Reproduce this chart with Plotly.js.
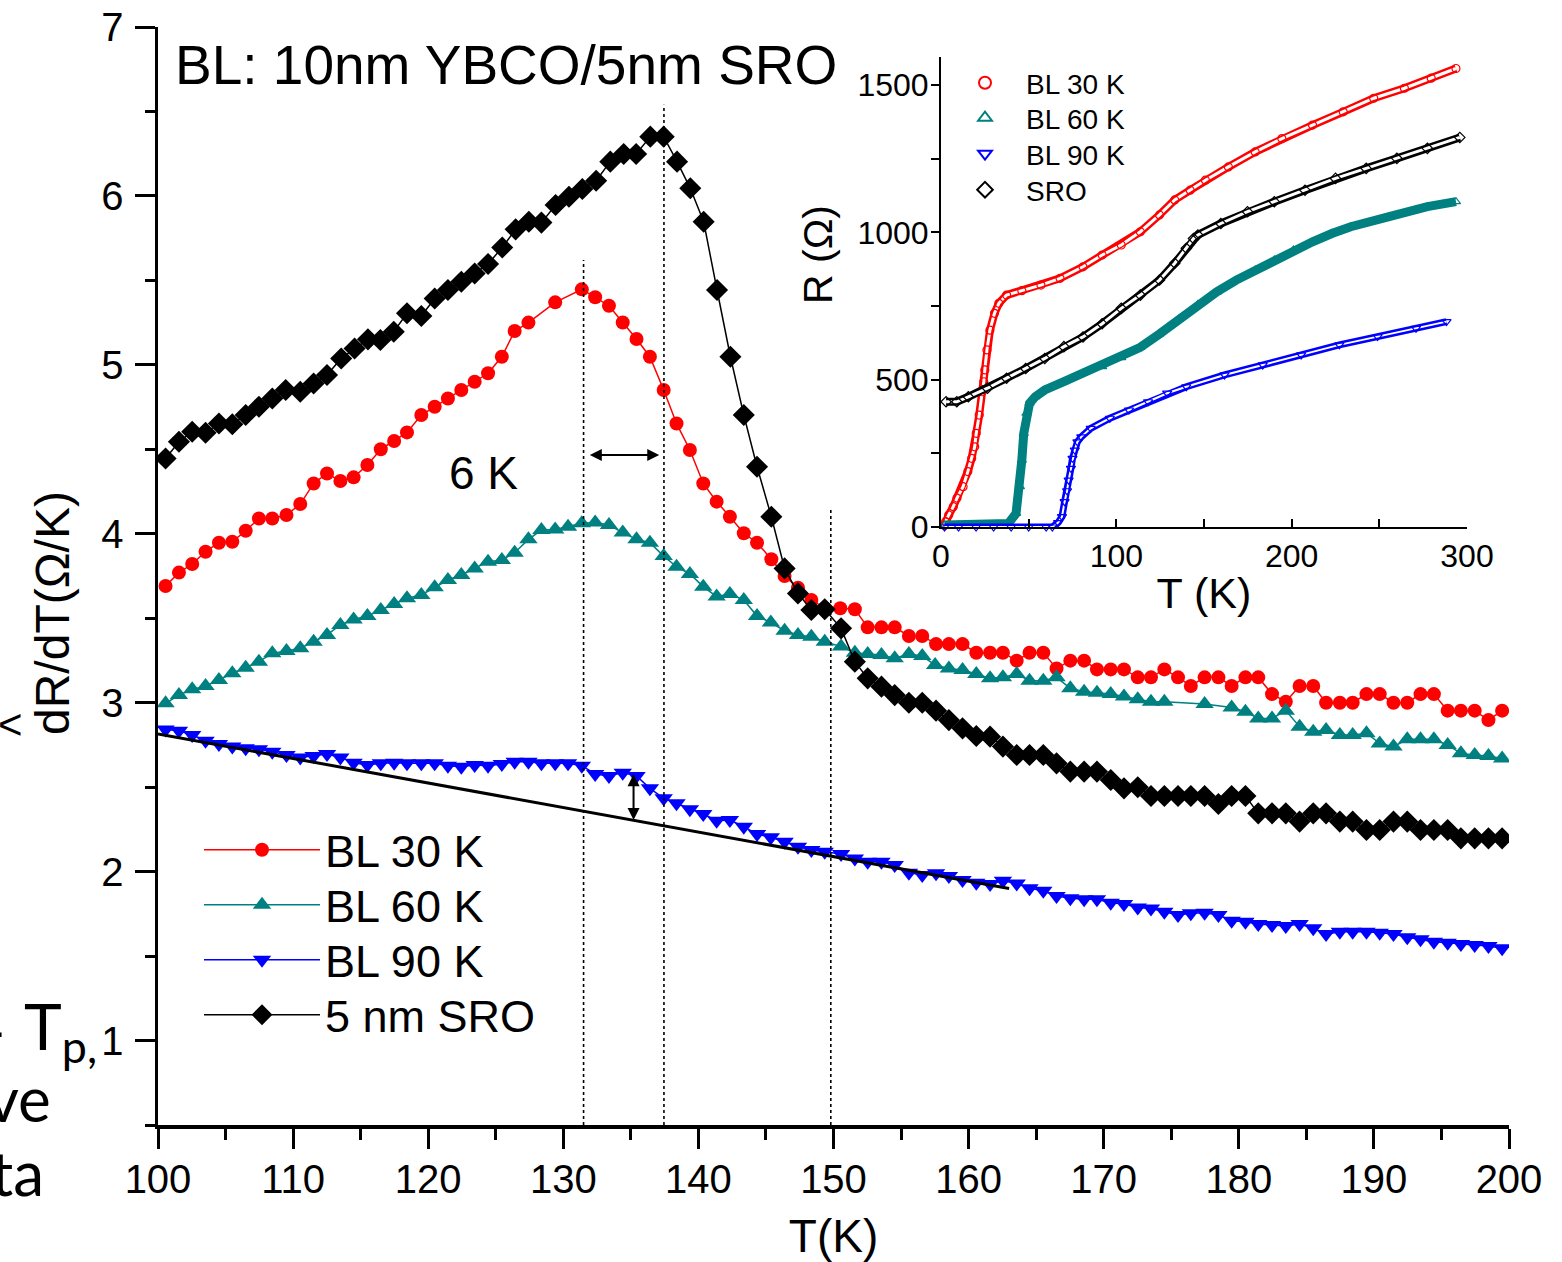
<!DOCTYPE html>
<html><head><meta charset="utf-8">
<script src="https://cdn.plot.ly/plotly-3.0.1.min.js"></script>
<style>html,body{margin:0;padding:0;background:#fff}#chart{width:1562px;height:1262px}</style>
</head><body><div id="chart"></div>
<script>
// ---- main panel: dR/dT vs T ----
const tBL30 = [100.56,101.55,102.53,103.52,104.51,105.5,106.49,107.47,108.46,109.51,110.53,111.52,112.51,113.5,114.48,115.5,116.49,117.48,118.43,119.49,120.48,121.46,122.45,123.44,124.43,125.45,126.4,127.42,129.4,131.37,132.36,133.38,134.4,135.42,136.41,137.43,138.38,139.37,140.36,141.35,142.33,143.36,144.34,145.4,146.38,147.37,148.36,149.35,150.5,151.58,152.53,153.55,154.53,155.58,156.57,157.59,158.54,159.55,160.57,161.59,162.54,163.56,164.51,165.53,166.51,167.53,168.55,169.5,170.52,171.5,172.52,173.5,174.49,175.5,176.45,177.47,178.49,179.47,180.49,181.44,182.46,183.48,184.5,185.51,186.46,187.48,188.43,189.45,190.43,191.45,192.47,193.45,194.44,195.46,196.44,197.46,198.48,199.49];
const dBL30 = [3.691,3.77,3.821,3.894,3.947,3.953,4.018,4.09,4.09,4.111,4.176,4.298,4.357,4.312,4.334,4.407,4.5,4.549,4.6,4.703,4.752,4.801,4.851,4.9,4.95,5.048,5.2,5.25,5.37,5.447,5.4,5.35,5.251,5.153,5.048,4.851,4.653,4.496,4.298,4.19,4.101,4.003,3.947,3.849,3.75,3.68,3.608,3.56,3.559,3.553,3.446,3.446,3.446,3.395,3.395,3.347,3.347,3.347,3.296,3.296,3.296,3.249,3.296,3.296,3.203,3.249,3.249,3.197,3.197,3.197,3.15,3.15,3.197,3.15,3.099,3.15,3.15,3.099,3.15,3.15,3.051,3.006,3.099,3.099,3.0,3.0,3.0,3.051,3.051,3.0,3.0,3.051,3.051,2.953,2.953,2.953,2.897,2.953];

const tBL60 = [100.56,101.55,102.53,103.52,104.51,105.5,106.49,107.47,108.46,109.51,110.53,111.52,112.51,113.5,114.48,115.5,116.49,117.48,118.43,119.49,120.48,121.46,122.45,123.44,124.43,125.45,126.4,127.42,128.38,129.4,130.35,131.37,132.36,133.38,134.4,135.42,136.41,137.43,138.38,139.37,140.36,141.35,142.33,143.36,144.34,145.36,146.38,147.37,148.36,149.35,150.56,151.58,152.53,153.55,154.53,155.58,156.57,157.52,158.54,159.55,160.57,161.59,162.54,163.56,164.51,165.53,166.51,167.53,168.55,169.5,170.52,171.5,172.52,173.5,174.49,177.47,179.47,180.49,181.44,182.46,183.48,184.5,185.51,186.46,187.48,188.43,189.45,190.43,191.45,192.47,193.45,194.44,195.46,196.44,197.46,198.48,199.49];
const dBL60 = [2.996,3.045,3.079,3.099,3.134,3.174,3.207,3.243,3.292,3.306,3.322,3.361,3.401,3.46,3.493,3.513,3.549,3.584,3.618,3.638,3.683,3.726,3.756,3.795,3.835,3.845,3.888,3.967,4.022,4.026,4.042,4.062,4.066,4.052,4.007,3.967,3.947,3.868,3.805,3.762,3.687,3.628,3.643,3.608,3.513,3.474,3.426,3.401,3.391,3.361,3.332,3.296,3.288,3.282,3.263,3.288,3.276,3.223,3.203,3.193,3.17,3.144,3.15,3.17,3.13,3.13,3.15,3.085,3.065,3.059,3.051,3.036,3.02,3.006,3.006,2.992,2.972,2.947,2.907,2.907,2.953,2.858,2.828,2.838,2.809,2.809,2.819,2.759,2.74,2.783,2.783,2.783,2.749,2.7,2.69,2.684,2.67];

const tBL90 = [100.56,101.55,102.53,103.52,104.51,105.5,106.49,107.47,108.46,109.51,110.53,111.52,112.51,113.5,114.48,115.5,116.49,117.48,118.43,119.49,120.48,121.46,122.45,123.44,124.43,125.45,126.4,127.42,128.38,129.4,130.35,131.37,132.36,133.38,134.4,135.42,136.41,137.43,138.38,139.37,140.36,141.35,142.33,143.36,144.34,145.36,146.38,147.37,148.36,149.35,150.56,151.58,152.53,153.55,154.53,155.58,156.57,157.59,158.54,159.55,160.57,161.59,162.54,163.56,164.51,165.53,166.51,167.53,168.55,169.5,170.52,171.5,172.52,173.5,174.49,175.5,176.45,177.47,178.49,179.47,180.49,181.44,182.46,183.48,184.5,185.51,186.46,187.48,188.43,189.45,190.43,191.45,192.47,193.45,194.44,195.46,196.44,197.46,198.48,199.49];
const dBL90 = [2.842,2.834,2.809,2.775,2.755,2.74,2.73,2.724,2.71,2.69,2.676,2.684,2.696,2.676,2.645,2.631,2.641,2.645,2.641,2.641,2.641,2.627,2.621,2.631,2.627,2.637,2.651,2.651,2.641,2.641,2.641,2.627,2.578,2.566,2.586,2.566,2.493,2.434,2.404,2.369,2.341,2.301,2.305,2.266,2.222,2.203,2.177,2.147,2.128,2.118,2.104,2.078,2.059,2.059,2.039,1.994,1.98,1.99,1.974,1.95,1.934,1.927,1.946,1.93,1.901,1.887,1.855,1.842,1.836,1.836,1.816,1.808,1.788,1.782,1.763,1.743,1.753,1.757,1.743,1.709,1.703,1.69,1.684,1.678,1.69,1.664,1.63,1.644,1.644,1.644,1.638,1.63,1.611,1.599,1.585,1.579,1.571,1.565,1.559,1.546];

const tSRO = [100.56,101.55,102.53,103.52,104.51,105.5,106.49,107.47,108.46,109.45,110.53,111.52,112.51,113.56,114.55,115.54,116.46,117.45,118.43,119.49,120.48,121.46,122.45,123.44,124.43,125.48,126.47,127.45,128.38,129.43,130.42,131.41,132.43,133.48,134.47,135.39,136.44,137.43,138.42,139.4,140.39,141.38,142.37,143.36,144.34,145.4,146.38,147.37,148.36,149.35,150.56,151.58,152.53,153.55,154.53,155.58,156.57,157.59,158.54,159.55,160.57,161.59,162.54,163.56,164.51,165.53,166.51,167.53,168.55,169.5,170.52,171.5,172.52,173.5,174.49,175.5,176.45,177.47,178.49,179.47,180.49,181.44,182.46,183.48,184.5,185.51,186.46,187.48,188.43,189.45,190.43,191.45,192.47,193.45,194.44,195.46,196.44,197.46,198.48,199.49];
const dSRO = [4.446,4.545,4.604,4.598,4.653,4.648,4.703,4.752,4.801,4.851,4.841,4.89,4.94,5.038,5.097,5.151,5.147,5.196,5.305,5.289,5.393,5.443,5.492,5.541,5.597,5.695,5.802,5.847,5.842,5.946,5.995,6.041,6.09,6.203,6.248,6.248,6.351,6.351,6.203,6.045,5.847,5.443,5.048,4.703,4.397,4.101,3.795,3.647,3.549,3.553,3.44,3.243,3.144,3.095,3.045,3.0,3.0,2.953,2.897,2.848,2.803,2.799,2.74,2.69,2.69,2.69,2.641,2.592,2.592,2.592,2.542,2.493,2.499,2.448,2.448,2.448,2.448,2.448,2.4,2.448,2.448,2.345,2.345,2.345,2.296,2.345,2.345,2.296,2.296,2.246,2.246,2.296,2.296,2.246,2.246,2.246,2.197,2.197,2.197,2.197];

// straight background line under BL 90 K
const fitT = [100, 163];
const fitD = [2.815, 1.9];

// ---- inset: R vs T ----
const rT30 = [2,2.6,4.4,7,9.1,12.6,15.3,17.5,19.2,20.1,21.8,23.5,24.4,25,26.2,27.9,30.5,33,37.4,46.1,57,67.9,81,91.9,102.8,113.7,124.6,133.3,142.1,150.8,163.9,179.2,194.4,211.9,229.4,246.8,264.3,279.6,293.7];
const rR30 = [5,18,41,69,98,137,188,233,272,318,380,459,493,533,601,668,725,759,787,802,821,844,883,923,957,1002,1059,1110,1143,1177,1222,1273,1318,1364,1409,1455,1489,1523,1556];
const rT60 = [2,10,20,30,38.4,42.8,45,46.1,47.2,48.7,50.5,53.7,59.2,70.1,81,91.9,102.8,113.7,124.6,135.5,146.5,157.3,168.4,179.2,190.1,201,211.9,222.9,233.7,255.6,277.4,293.7];
const rR60 = [7,7,7,7,12,46,137,227,318,386,420,442,465,493,522,544,575,610,655,705,755,798,838,872,906,940,968,996,1019,1053,1087,1104];
const rT90 = [2,10,20,30,40,50,60,63.5,66.8,69,70.5,71.9,72.8,74.1,75,76.3,77.8,80,85.4,96.3,107.2,118.1,129,139.9,161.7,183.5,205.4,227.2,249,270.9,288.3];
const rR90 = [0,0,0,0,0,0,0,0,15,35,86,123,159,199,233,261,289,306,335,369,397,425,454,476,516,550,584,618,646,674,697];
const rTSRO = [2.9,9,15.6,26.5,37.4,48.3,59.2,70.1,81,91.9,102.8,113.7,124.6,133.3,139.9,144,146.5,159.6,174.8,190.1,207.6,225,242.5,260,277.4,295.9];
const rRSRO = [425,425,442,471,505,538,572,612,645,690,742,787,838,895,946,979,991,1030,1070,1104,1143,1183,1217,1251,1285,1322];

const mainNames = ["BL 30 K","BL 60 K","BL 90 K","5 nm SRO"];
const insetNames = ["BL 30 K","BL 60 K","BL 90 K","SRO"];

const RED = "#ff0000", TEAL = "#008080", BLUE = "#0000ff", BLACK = "#000000";
const FONT = "Liberation Sans, Arial, Helvetica, sans-serif";
const SIDEFONT = "Lato, sans-serif";

// page geometry
const W = 1562, H = 1262, ML = 158, MR = 53, MT = 27, MB = 137;
const PW = W - ML - MR, PH = H - MT - MB;
const px = x => (x - ML) / PW;
const py = y => (H - MB - y) / PH;

// one legend box per entry so rows sit where the reference has them
const mainLegendIds = ["legend","legend3","legend4","legend5"];
const insetLegendIds = ["legend2","legend6","legend7","legend8"];
const mainRowsY = [850, 905, 960, 1015];
const insetRowsY = [83, 118, 154, 190];

const traces = [];
traces.push({x:tBL30, y:dBL30, name:mainNames[0], mode:"lines+markers", legend:mainLegendIds[0],
  line:{color:RED, width:1.5}, marker:{symbol:"circle", size:14, color:RED}});
traces.push({x:tBL60, y:dBL60, name:mainNames[1], mode:"lines+markers", legend:mainLegendIds[1],
  line:{color:TEAL, width:1.5}, marker:{symbol:"triangle-up", size:16, color:TEAL}});
traces.push({x:tBL90, y:dBL90, name:mainNames[2], mode:"lines+markers", legend:mainLegendIds[2],
  line:{color:BLUE, width:1.5}, marker:{symbol:"triangle-down", size:16, color:BLUE}});
traces.push({x:fitT, y:fitD, mode:"lines", showlegend:false, hoverinfo:"skip",
  line:{color:BLACK, width:3}});
traces.push({x:tSRO, y:dSRO, name:mainNames[3], mode:"lines+markers", legend:mainLegendIds[3],
  line:{color:BLACK, width:1.5}, marker:{symbol:"diamond", size:17, color:BLACK}});

const inset = [
  {t:rT30, r:rR30, c:RED, s:"circle-open", w:8, hollow:3},
  {t:rT60, r:rR60, c:TEAL, s:"triangle-up-open", w:9, hollow:0},
  {t:rT90, r:rR90, c:BLUE, s:"triangle-down-open", w:7, hollow:2},
  {t:rTSRO, r:rRSRO, c:BLACK, s:"diamond-open", w:8, hollow:3}
];
inset.forEach((d,i) => {
  traces.push({x:d.t, y:d.r, xaxis:"x2", yaxis:"y2", mode:"lines", showlegend:false,
    hoverinfo:"skip", cliponaxis:false, line:{color:d.c, width:d.w}});
  if (d.hollow) traces.push({x:d.t, y:d.r, xaxis:"x2", yaxis:"y2", mode:"lines", showlegend:false,
    hoverinfo:"skip", cliponaxis:false, line:{color:"#ffffff", width:d.hollow}});
  traces.push({x:d.t, y:d.r, xaxis:"x2", yaxis:"y2", mode:"markers", name:insetNames[i], legend:insetLegendIds[i],
    cliponaxis:false, marker:{symbol:d.s, size:8, color:d.c, line:{color:d.c, width:1.2}}});
});

const axisCommon = {showline:true, linecolor:BLACK, showgrid:false, zeroline:false, ticks:"outside",
  tickcolor:BLACK, mirror:false};

const layout = {
  width:W, height:H, margin:{l:ML, r:MR, t:MT, b:MB, pad:0},
  paper_bgcolor:"#ffffff", plot_bgcolor:"rgba(0,0,0,0)",
  font:{family:FONT, color:BLACK, size:40},
  showlegend:true,
  xaxis:Object.assign({}, axisCommon, {range:[100,200], domain:[0,1], linewidth:3.5,
    tickmode:"linear", tick0:100, dtick:10, ticklen:20, tickwidth:3,
    minor:{dtick:5, ticklen:11, tickwidth:3, ticks:"outside", tickcolor:BLACK},
    tickfont:{size:40, family:FONT}, ticklabelstandoff:-4,
    title:{text:"T(K)", font:{size:46, family:FONT}, standoff:24}}),
  yaxis:Object.assign({}, axisCommon, {range:[0.5,7], domain:[0,1], linewidth:3.5,
    tickmode:"linear", tick0:0, dtick:1, ticklen:20, tickwidth:3,
    minor:{dtick:0.5, ticklen:10, tickwidth:3, ticks:"outside", tickcolor:BLACK},
    tickfont:{size:40, family:FONT}, ticklabelstandoff:3}),
  xaxis2:Object.assign({}, axisCommon, {anchor:"y2", domain:[px(941), px(1467)], range:[0,300],
    linewidth:2, ticks:"inside", tickmode:"linear", tick0:0, dtick:100, ticklen:8, tickwidth:2,
    minor:{dtick:50, ticklen:8, tickwidth:2, ticks:"inside", tickcolor:BLACK},
    tickfont:{size:32, family:FONT}, ticklabelstandoff:0,
    title:{text:"T (K)", font:{size:43, family:FONT}, standoff:4}}),
  yaxis2:Object.assign({}, axisCommon, {anchor:"x2", domain:[py(527), py(57)], range:[0,1595],
    linewidth:2, tickmode:"linear", tick0:0, dtick:500, ticklen:8, tickwidth:2,
    minor:{dtick:250, ticklen:8, tickwidth:2, ticks:"outside", tickcolor:BLACK},
    tickfont:{size:32, family:FONT}, ticklabelstandoff:-4}),
  shapes:[
    {type:"line", xref:"x", yref:"y", x0:131.5, x1:131.5, y0:0.5, y1:5.62, line:{color:BLACK, width:1.6, dash:"dot"}},
    {type:"line", xref:"x", yref:"y", x0:137.45, x1:137.45, y0:0.5, y1:6.54, line:{color:BLACK, width:1.6, dash:"dot"}},
    {type:"line", xref:"x", yref:"y", x0:149.8, x1:149.8, y0:0.5, y1:4.15, line:{color:BLACK, width:1.6, dash:"dot"}}
  ],
  annotations:[
    {xref:"paper", yref:"paper", x:px(173), y:py(65), xanchor:"left", yanchor:"middle", showarrow:false,
      text:"BL: 10nm YBCO/5nm SRO", font:{size:55, family:FONT}},
    {xref:"x", yref:"y", x:124.1, y:4.36, xanchor:"center", yanchor:"middle", showarrow:false,
      text:"6 K", font:{size:46, family:FONT}},
    {xref:"x", yref:"y", x:137.1, y:4.466, ax:131.85, ay:4.466, axref:"x", ayref:"y", text:"",
      showarrow:true, arrowhead:2, startarrowhead:2, arrowside:"end+start", arrowsize:1.2, arrowwidth:2, arrowcolor:BLACK},
    {xref:"x", yref:"y", x:135.2, y:2.305, ax:135.2, ay:2.585, axref:"x", ayref:"y", text:"",
      showarrow:true, arrowhead:2, startarrowhead:2, arrowside:"end+start", arrowsize:1.2, arrowwidth:2, arrowcolor:BLACK},
    {xref:"paper", yref:"paper", x:px(52), y:py(613), xanchor:"center", yanchor:"middle", textangle:-90, showarrow:false,
      text:"dR/dT(Ω/K)", font:{size:48, family:FONT}},
    {xref:"paper", yref:"paper", x:px(10), y:py(724), xanchor:"center", yanchor:"middle", showarrow:false,
      text:"<", font:{size:42, family:FONT}},
    {xref:"paper", yref:"paper", x:px(818), y:py(255), xanchor:"center", yanchor:"middle", textangle:-90, showarrow:false,
      text:"R (Ω)", font:{size:41, family:FONT}},
    {xref:"paper", yref:"paper", x:px(22), y:py(1030), xanchor:"left", yanchor:"middle", showarrow:false,
      text:"T<sub>p,</sub>", font:{size:64, family:SIDEFONT}},
    {xref:"paper", yref:"paper", x:px(7), y:py(1030), xanchor:"right", yanchor:"middle", showarrow:false,
      text:"-", font:{size:60, family:SIDEFONT}},
    {xref:"paper", yref:"paper", x:px(53), y:py(1098), xanchor:"right", yanchor:"middle", showarrow:false,
      text:"ve", font:{size:62, family:SIDEFONT}},
    {xref:"paper", yref:"paper", x:px(46), y:py(1172), xanchor:"right", yanchor:"middle", showarrow:false,
      text:"ta", font:{size:62, family:SIDEFONT}}
  ]
};
mainLegendIds.forEach((id,i) => {
  layout[id] = {x:px(199), y:py(mainRowsY[i]), xanchor:"left", yanchor:"middle", bgcolor:"rgba(0,0,0,0)",
    font:{size:45, family:FONT}, itemwidth:116, borderwidth:0};
});
insetLegendIds.forEach((id,i) => {
  layout[id] = {x:px(944), y:py(insetRowsY[i]), xanchor:"left", yanchor:"middle", bgcolor:"rgba(0,0,0,0)",
    font:{size:28, family:FONT}, itemwidth:72, itemsizing:"constant", borderwidth:0};
});

Plotly.newPlot("chart", traces, layout, {staticPlot:true, displayModeBar:false});
</script>
</body></html>
